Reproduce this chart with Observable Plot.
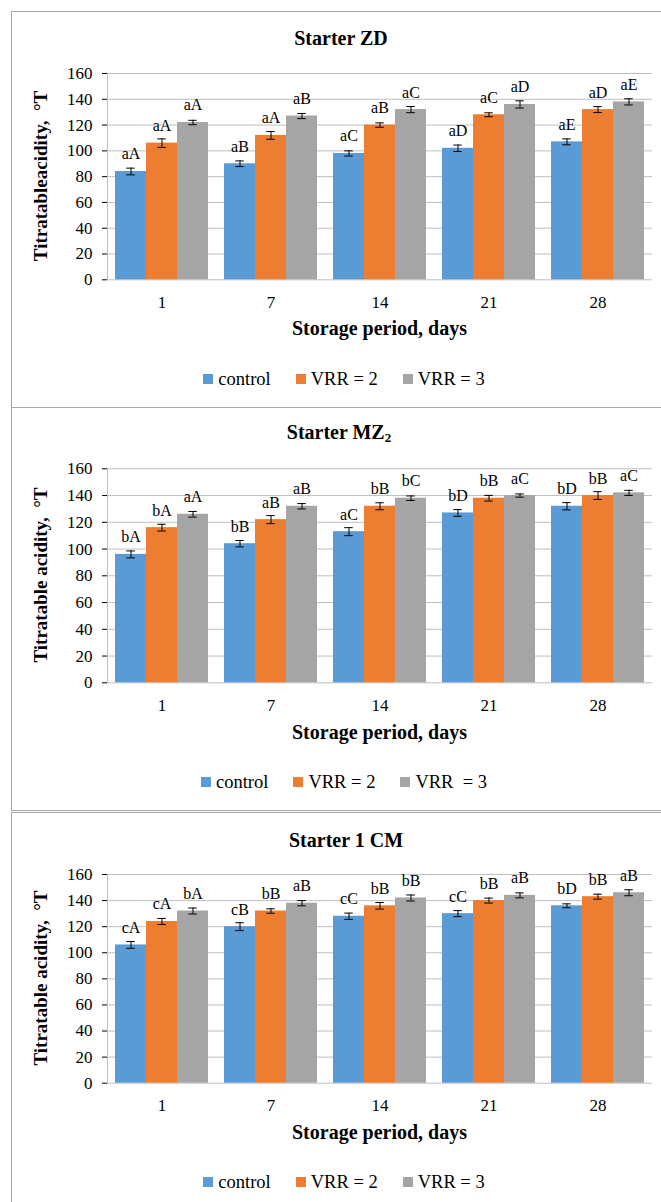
<!DOCTYPE html>
<html>
<head>
<meta charset="utf-8">
<script src="https://cdn.jsdelivr.net/npm/d3@7"></script>
<script src="https://cdn.jsdelivr.net/npm/@observablehq/plot@0.6"></script>
<style>
  html, body { margin: 0; padding: 0; background: #fff; }
  body { width: 661px; height: 1202px; position: relative; overflow: hidden;
         font-family: "Liberation Serif", "Times New Roman", serif; color: #000; }
  div, span { font-family: "Liberation Serif", "Times New Roman", serif; }
  svg text, svg tspan { font-family: "Liberation Serif", "Times New Roman", serif !important; }
  .panel { position: absolute; left: 11px; width: 720px; border: 1px solid #a6a6a6; box-sizing: border-box; }
  .abs { position: absolute; }
  .title { font-weight: bold; font-size: 20px; line-height: 24px; height: 24px; text-align: center; white-space: pre; }
  .title sub { font-size: 13px; vertical-align: -3px; line-height: 0; }
  .xtitle { font-weight: bold; font-size: 20px; line-height: 24px; height: 24px; text-align: center; white-space: pre; }
  .ytitle { font-weight: bold; font-size: 19px; line-height: 24px; height: 24px; width: 300px; text-align: center;
            white-space: pre; transform: rotate(-90deg); transform-origin: 50% 50%; }
  .legend { display: flex; align-items: center; justify-content: center; font-size: 18.5px; line-height: 24px; height: 24px; white-space: pre; }
  .legend .item { display: flex; align-items: center; margin: 0 12.5px; }
  .legend .sw { width: 10px; height: 10px; margin-right: 5px; }
  g[aria-label="y-axis tick"] { stroke: #a6a6a6 !important; }
</style>
</head>
<body>
<script>
// ---- data ----
const days = ["1", "7", "14", "21", "28"];
const series = ["control", "VRR = 2", "VRR = 3"];
const colors = ["#5b9bd5", "#ed7d31", "#a5a5a5"];
const yTicks = [0, 20, 40, 60, 80, 100, 120, 140, 160];

// Starter ZD
const zdControl = [84, 90, 98, 102, 107];
const zdVrr2 = [106, 112, 120, 128, 132];
const zdVrr3 = [122, 127, 132, 136, 138];
const zdControlErr = [2.6, 2.2, 2, 2.5, 2.3];
const zdVrr2Err = [3.3, 3, 1.7, 1.5, 2.3];
const zdVrr3Err = [1.7, 2, 2.4, 2.8, 2.4];
const zdControlLabels = ["aA", "aB", "aC", "aD", "aE"];
const zdVrr2Labels = ["aA", "aA", "aB", "aC", "aD"];
const zdVrr3Labels = ["aA", "aB", "aC", "aD", "aE"];

// Starter MZ2
const mzControl = [96, 104, 113, 127, 132];
const mzVrr2 = [116, 122, 132, 138, 140];
const mzVrr3 = [126, 132, 138, 140, 142];
const mzControlErr = [2.6, 2.4, 3, 2.5, 2.7];
const mzVrr2Err = [2.5, 3, 2.6, 2.1, 2.9];
const mzVrr3Err = [2.1, 2, 1.7, 1.2, 1.9];
const mzControlLabels = ["bA", "bB", "aC", "bD", "bD"];
const mzVrr2Labels = ["bA", "aB", "bB", "bB", "bB"];
const mzVrr3Labels = ["aA", "aB", "bC", "aC", "aC"];

// Starter 1 CM
const cmControl = [106, 120, 128, 130, 136];
const cmVrr2 = [124, 132, 136, 140, 143];
const cmVrr3 = [132, 138, 142, 144, 146];
const cmControlErr = [2.6, 3, 2.4, 2.3, 1.5];
const cmVrr2Err = [2.3, 1.7, 2.5, 1.9, 1.9];
const cmVrr3Err = [2.3, 2, 2.3, 1.9, 2.3];
const cmControlLabels = ["cA", "cB", "cC", "cC", "bD"];
const cmVrr2Labels = ["cA", "bB", "bB", "bB", "bB"];
const cmVrr3Labels = ["bA", "aB", "bB", "aB", "aB"];

const FONT = "Liberation Serif, Times New Roman, serif";

const panels = [
  { title: "Starter ZD", titleX: 341, ytitle: "Titratableacidity,  °T",
    legendNames: ["control", "VRR = 2", "VRR = 3"],
    values: [zdControl, zdVrr2, zdVrr3], errs: [zdControlErr, zdVrr2Err, zdVrr3Err],
    labels: [zdControlLabels, zdVrr2Labels, zdVrr3Labels],
    box: [11, 407], titleY: 37.5, y160: 73, y0: 279.3, xTitleY: 328, legendY: 379 },
  { title: "Starter MZ<sub>2</sub>", titleX: 339, ytitle: "Titratable acidity,  °T",
    legendNames: ["control", "VRR = 2", "VRR  = 3"],
    values: [mzControl, mzVrr2, mzVrr3], errs: [mzControlErr, mzVrr2Err, mzVrr3Err],
    labels: [mzControlLabels, mzVrr2Labels, mzVrr3Labels],
    box: [407, 810], titleY: 432, y160: 468.3, y0: 682.3, xTitleY: 731.7, legendY: 781.7 },
  { title: "Starter 1 CM", titleX: 346, ytitle: "Titratable acidity,  °T",
    legendNames: ["control", "VRR = 2", "VRR = 3"],
    values: [cmControl, cmVrr2, cmVrr3], errs: [cmControlErr, cmVrr2Err, cmVrr3Err],
    labels: [cmControlLabels, cmVrr2Labels, cmVrr3Labels],
    box: [812, 1230], titleY: 840, y160: 874, y0: 1082.7, xTitleY: 1131.7, legendY: 1181.7 }
];

function el(tag, cls, style, html) {
  const e = document.createElement(tag);
  if (cls) e.className = cls;
  Object.assign(e.style, style || {});
  if (html != null) e.innerHTML = html;
  document.body.appendChild(e);
  return e;
}

panels.forEach(p => {
  el("div", "panel", { top: p.box[0] + "px", height: (p.box[1] - p.box[0] + 1) + "px" });
  el("div", "abs title", { left: "0px", width: (2 * p.titleX) + "px", top: (p.titleY - 12) + "px" }, p.title);
  const yMid = (p.y160 + p.y0) / 2;
  el("div", "abs ytitle", { left: (41 - 150) + "px", top: (yMid - 12) + "px" }).textContent = p.ytitle;
  el("div", "abs xtitle", { left: "0px", width: (2 * 379.5) + "px", top: (p.xTitleY - 12) + "px" }).textContent = "Storage period, days";
  const lg = el("div", "abs legend", { left: "0px", width: (2 * 344) + "px", top: (p.legendY - 12) + "px" });
  series.forEach((s, j) => {
    const it = document.createElement("div");
    it.className = "item";
    const sw = document.createElement("div");
    sw.className = "sw";
    sw.style.background = colors[j];
    const tx = document.createElement("span");
    tx.textContent = p.legendNames[j];
    it.appendChild(sw); it.appendChild(tx);
    lg.appendChild(it);
  });

  const rows = [];
  days.forEach((d, i) => series.forEach((s, j) => rows.push({
    day: d, series: s, value: p.values[j][i], err: p.errs[j][i], label: p.labels[j][i]
  })));

  const svgTop = Math.floor(p.y160) - 30;
  const height = Math.ceil(p.y0) + 40 - svgTop;
  const marginTop = p.y160 - svgTop;
  const marginBottom = height - (p.y0 - svgTop);

  const chart = Plot.plot({
    width: 661, height,
    marginLeft: 105, marginRight: 8, marginTop, marginBottom,
    style: { fontFamily: FONT, fontSize: "17px", background: "transparent", color: "#000", overflow: "visible" },
    fx: { domain: days, padding: 0, label: null, tickSize: 0, tickPadding: 16 },
    x: { domain: series, axis: null, paddingInner: 0, paddingOuter: 0.21 },
    y: { domain: [0, 160], ticks: yTicks, tickSize: 5, tickPadding: 10, label: null },
    color: { domain: series, range: colors },
    marks: [
      Plot.ruleY(yTicks, { stroke: "#bfbfbf" }),
      Plot.frame({ anchor: "left", stroke: "#bfbfbf", facetAnchor: "left" }),
      Plot.barY(rows, { fx: "day", x: "series", y: "value", fill: "series" }),
      Plot.ruleX(rows, { fx: "day", x: "series", y1: d => d.value - d.err, y2: d => d.value + d.err, stroke: "#000", strokeWidth: 1 }),
      Plot.tickY(rows, { fx: "day", x: "series", y: d => d.value + d.err, stroke: "#000", strokeWidth: 1, insetLeft: 11.25, insetRight: 11.25 }),
      Plot.tickY(rows, { fx: "day", x: "series", y: d => d.value - d.err, stroke: "#000", strokeWidth: 1, insetLeft: 11.25, insetRight: 11.25 }),
      Plot.text(rows, { fx: "day", x: "series", y: "value", text: "label", dy: -12, lineAnchor: "bottom", fontSize: 16, fontFamily: FONT, fill: "#000" })
    ]
  });
  const wrap = el("div", "abs", { left: "0px", top: svgTop + "px" });
  wrap.appendChild(chart);
});
</script>
</body>
</html>
